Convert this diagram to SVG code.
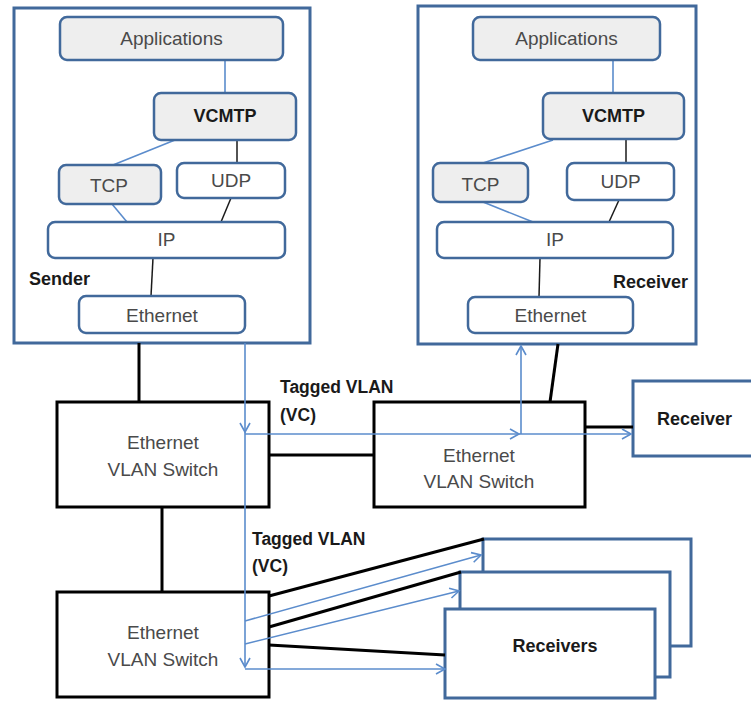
<svg xmlns="http://www.w3.org/2000/svg" width="751" height="701" viewBox="0 0 751 701">
  <style>
    .host { fill: #ffffff; stroke: #41699b; stroke-width: 3; }
    .layer { fill: #ffffff; stroke: #41699b; stroke-width: 2.5; }
    .layer.shade { fill: #eeeeee; }
    .switch { fill: #ffffff; stroke: #000000; stroke-width: 3; }
    .rx { fill: #ffffff; stroke: #41699b; stroke-width: 3; }
    .t { font-family: "Liberation Sans", Arial, sans-serif; font-size: 19px; fill: #4a4a4a; text-anchor: middle; }
    .b { font-family: "Liberation Sans", Arial, sans-serif; font-size: 18px; font-weight: bold; fill: #1a1a1a; }
    .bc { text-anchor: middle; }
    .wire { stroke: #000000; stroke-width: 3; fill: none; }
    .thin { stroke: #1a1a1a; stroke-width: 1.5; fill: none; }
    .flow { stroke: #5b8ccc; stroke-width: 1.6; fill: none; }
    .flowA { stroke: #5b8ccc; stroke-width: 1.6; fill: none; marker-end: url(#vee); }
  </style>
  <defs>
    <marker id="vee" markerUnits="userSpaceOnUse" markerWidth="14" markerHeight="14" refX="10" refY="6" orient="auto">
      <path d="M1,1 L10,6 L1,11" fill="none" stroke="#5b8ccc" stroke-width="1.6"/>
    </marker>
  </defs>

  <rect width="751" height="701" fill="#ffffff"/>

  <!-- Sender host with protocol stack -->
  <g id="sender">
    <rect class="host" x="14" y="8" width="296" height="335"/>
    <text class="b" x="29" y="285">Sender</text>
  </g>
  <g id="sender-stack-links">
    <line class="flow" x1="225" y1="60" x2="225" y2="93"/>
    <line class="flow" x1="175" y1="140" x2="113" y2="165"/>
    <line class="thin" x1="237" y1="140" x2="237" y2="163"/>
    <line class="flow" x1="112" y1="204" x2="127" y2="222"/>
    <line class="thin" x1="231" y1="198" x2="221" y2="222"/>
    <line class="thin" x1="153" y1="258" x2="151" y2="296"/>
  </g>
  <g id="s-apps">
    <rect class="layer shade" x="60" y="17" width="223" height="43" rx="7"/>
    <text class="t" x="171.5" y="45">Applications</text>
  </g>
  <g id="s-vcmtp">
    <rect class="layer shade" x="154" y="93" width="142" height="47" rx="7"/>
    <text class="b bc" x="225" y="122">VCMTP</text>
  </g>
  <g id="s-tcp">
    <rect class="layer shade" x="59" y="165" width="102" height="39" rx="7"/>
    <text class="t" x="109" y="192">TCP</text>
  </g>
  <g id="s-udp">
    <rect class="layer" x="177" y="163" width="108" height="35" rx="7"/>
    <text class="t" x="231" y="187">UDP</text>
  </g>
  <g id="s-ip">
    <rect class="layer" x="48" y="222" width="237" height="36" rx="7"/>
    <text class="t" x="166.5" y="246">IP</text>
  </g>
  <g id="s-eth">
    <rect class="layer" x="79" y="296" width="166" height="37" rx="7"/>
    <text class="t" x="162" y="322">Ethernet</text>
  </g>

  <!-- Receiver host with protocol stack -->
  <g id="receiver">
    <rect class="host" x="418" y="6" width="278" height="338"/>
    <text class="b" x="613" y="288">Receiver</text>
  </g>
  <g id="receiver-stack-links">
    <line class="flow" x1="613" y1="60" x2="613" y2="93"/>
    <line class="flow" x1="553" y1="140" x2="483" y2="163"/>
    <line class="thin" x1="626" y1="139" x2="626" y2="163"/>
    <line class="flow" x1="483" y1="202" x2="533" y2="222"/>
    <line class="thin" x1="619" y1="200" x2="609" y2="222"/>
    <line class="thin" x1="540" y1="258" x2="539" y2="297"/>
  </g>
  <g id="r-apps">
    <rect class="layer shade" x="473" y="17" width="187" height="43" rx="7"/>
    <text class="t" x="566.5" y="45">Applications</text>
  </g>
  <g id="r-vcmtp">
    <rect class="layer shade" x="543" y="93" width="141" height="46" rx="7"/>
    <text class="b bc" x="613.5" y="122">VCMTP</text>
  </g>
  <g id="r-tcp">
    <rect class="layer shade" x="433" y="163" width="95" height="39" rx="7"/>
    <text class="t" x="480.5" y="191">TCP</text>
  </g>
  <g id="r-udp">
    <rect class="layer" x="567" y="163" width="107" height="37" rx="7"/>
    <text class="t" x="620.5" y="188">UDP</text>
  </g>
  <g id="r-ip">
    <rect class="layer" x="437" y="222" width="236" height="36" rx="7"/>
    <text class="t" x="555" y="246">IP</text>
  </g>
  <g id="r-eth">
    <rect class="layer" x="468" y="297" width="165" height="36" rx="7"/>
    <text class="t" x="550.5" y="322">Ethernet</text>
  </g>

  <!-- Switches -->
  <g id="switch1">
    <rect class="switch" x="57" y="402" width="212" height="105"/>
    <text class="t" x="163" y="449">Ethernet</text>
    <text class="t" x="163" y="476">VLAN Switch</text>
  </g>
  <g id="switch2">
    <rect class="switch" x="374" y="402" width="211" height="105"/>
    <text class="t" x="479" y="462">Ethernet</text>
    <text class="t" x="479" y="488">VLAN Switch</text>
  </g>
  <g id="switch3">
    <rect class="switch" x="57" y="592" width="212" height="105"/>
    <text class="t" x="163" y="639">Ethernet</text>
    <text class="t" x="163" y="666">VLAN Switch</text>
  </g>

  <!-- Single remote receiver -->
  <g id="receiver-right">
    <rect class="rx" x="633" y="381" width="130" height="75"/>
    <text class="b" x="657" y="425">Receiver</text>
  </g>

  <!-- Stack of receivers -->
  <g id="receivers">
    <rect class="rx" x="483" y="539" width="208" height="107"/>
    <rect class="rx" x="460" y="572" width="210" height="105"/>
    <rect class="rx" x="445" y="609" width="210" height="89"/>
    <text class="b bc" x="555" y="652">Receivers</text>
  </g>

  <!-- Labels on the virtual circuit -->
  <g id="vc-labels">
    <text class="b" x="280" y="393" style="font-size:17.5px">Tagged VLAN</text>
    <text class="b" x="280" y="421" style="font-size:17.5px">(VC)</text>
    <text class="b" x="252" y="545" style="font-size:17.5px">Tagged VLAN</text>
    <text class="b" x="252" y="572" style="font-size:17.5px">(VC)</text>
  </g>

  <!-- Physical links and VC paths -->
  <g id="connectors">
    <line class="wire" x1="139" y1="343" x2="139" y2="402"/>
    <line class="wire" x1="269" y1="455" x2="374" y2="455"/>
    <line class="wire" x1="162" y1="507" x2="162" y2="592"/>
    <line class="wire" x1="550" y1="402" x2="558" y2="344"/>
    <line class="wire" x1="585" y1="427" x2="633" y2="427"/>
    <line class="wire" x1="269" y1="596" x2="484" y2="539"/>
    <line class="wire" x1="269" y1="627" x2="461" y2="572"/>
    <line class="wire" x1="269" y1="645" x2="445" y2="655"/>

    <line class="flowA" x1="245" y1="343" x2="245" y2="432"/>
    <line class="flowA" x1="245" y1="432" x2="245" y2="667"/>
    <line class="flowA" x1="245" y1="434" x2="519" y2="434"/>
    <line class="flowA" x1="519" y1="434" x2="631" y2="434"/>
    <line class="flowA" x1="521" y1="434" x2="521" y2="346"/>
    <line class="flowA" x1="245" y1="621" x2="481" y2="555"/>
    <line class="flowA" x1="245" y1="644" x2="459" y2="591"/>
    <line class="flowA" x1="245" y1="669" x2="445" y2="669"/>
  </g>
</svg>
